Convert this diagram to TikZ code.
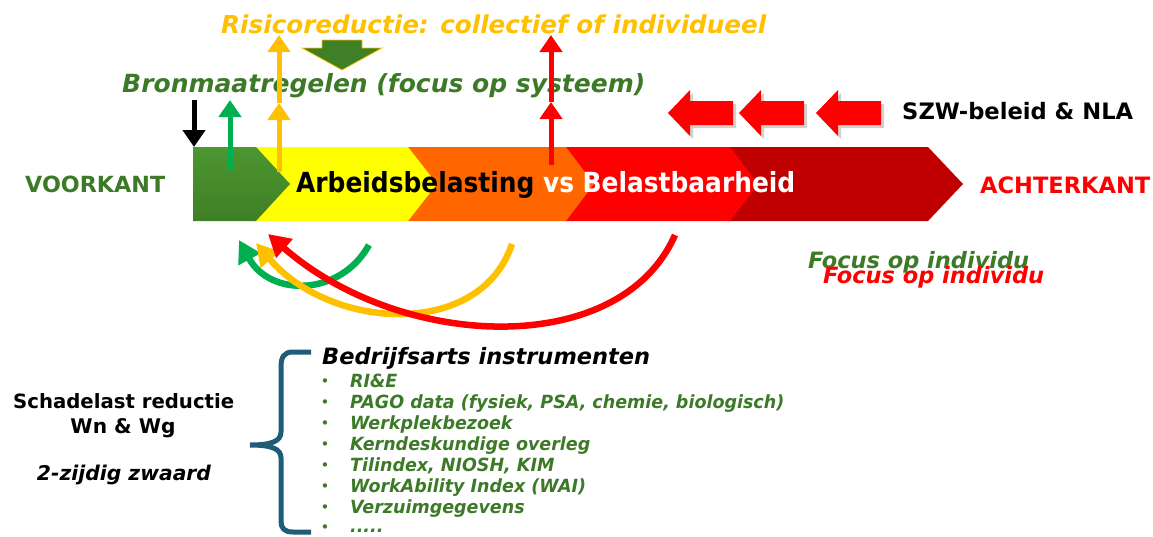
\documentclass[tikz,border=0pt]{standalone}
\usepackage{fontspec}
\setmainfont{DejaVu Sans}
\newfontfamily\condfont{DejaVu Sans Condensed}
\usetikzlibrary{arrows.meta}
\definecolor{gold}{HTML}{FFC000}
\definecolor{txtgreen}{HTML}{3D7A28}
\definecolor{bargreen}{HTML}{3F7F25}
\definecolor{barlight}{HTML}{4D9630}
\definecolor{brightgreen}{HTML}{00B050}
\definecolor{cyellow}{HTML}{FFFF00}
\definecolor{corange}{HTML}{FF6600}
\definecolor{cred}{HTML}{FF0000}
\definecolor{cdarkred}{HTML}{C00000}
\definecolor{bracecol}{HTML}{1F5C78}
\newcommand{\fitw}[2]{\resizebox{#1pt}{!}{#2}}
\newcommand{\listtext}[1]{\scalebox{1.06}[1.1]{#1}}
\tikzset{
  txt/.style={inner sep=0pt, anchor=base west},
  uparrow/.style={line width=5pt, -{Triangle[length=17pt,width=22pt]}},
  curvearrow/.style={line width=6.5pt, -{Triangle[length=22pt,width=24pt]}},
  blockarrow/.style={fill=cred},
  arrowshadow/.style={fill=black, opacity=0.18},
  listitem/.style={txt, font=\fontsize{16.5}{18}\selectfont\bfseries\itshape, text=txtgreen},
  bulletdot/.style={inner sep=0pt, anchor=base, text=txtgreen, font=\fontsize{15}{15}\selectfont}
}
\begin{document}
\begin{tikzpicture}[x=1pt,y=-1pt]
\useasboundingbox (0,0) rectangle (1153,536);

% ---- chevron bar ----
\fill[cdarkred] (728,147) -- (928,147) -- (963,184) -- (928,221) -- (728,221) -- cycle;
\fill[cred] (565,147) -- (730,147) -- (758,184) -- (730,221) -- (565,221) -- cycle;
\fill[corange] (407,147) -- (566,147) -- (594,184) -- (566,221) -- (407,221) -- cycle;
\fill[cyellow] (255,147) -- (408,147) -- (437,184) -- (408,221) -- (255,221) -- cycle;
\shade[top color=barlight, bottom color=bargreen] (193,147) -- (256,147) -- (290,184) -- (256,221) -- (193,221) -- cycle;

\node[txt] (bartext) at (296,192) {\fitw{499}{\condfont\bfseries Arbeidsbelasting \textcolor{white}{vs Belastbaarheid}}};

% ---- side labels ----
\node[txt] (voorkant) at (25,192) {\fitw{140}{\bfseries\color{txtgreen}VOORKANT}};
\node[txt] (achterkant) at (980,193) {\fitw{170}{\bfseries\color{cred}ACHTERKANT}};

% ---- top texts ----
\node[txt] (risico) at (221,33) {\fitw{545}{\bfseries\itshape\color{gold}Risicoreductie: collectief of individueel}};
\node[txt] (bron) at (122,92) {\fitw{523}{\bfseries\itshape\color{txtgreen}Bronmaatregelen (focus op systeem)}};
\node[txt] (szw) at (902,119) {\fitw{231}{\bfseries SZW-beleid \& NLA}};

% ---- green block arrow down ----
\fill[bargreen, draw=gold, line width=0.8pt] (322,40) -- (362,40) -- (362,48) -- (382,48) -- (342,70) -- (302,48) -- (322,48) -- cycle;

% ---- red block arrows (left) ----
\foreach \t in {668, 739, 816}{
  \fill[arrowshadow] (\t+3,116) -- (\t+25,93) -- (\t+25,104) -- (\t+68,104) -- (\t+68,128) -- (\t+25,128) -- (\t+25,139) -- cycle;
  \fill[blockarrow] (\t,113) -- (\t+22,90) -- (\t+22,101) -- (\t+65,101) -- (\t+65,125) -- (\t+22,125) -- (\t+22,136) -- cycle;
}

% ---- vertical arrows ----
\coordinate (blacktop) at (194,100);
\coordinate (blackbot) at (194,147);
\coordinate (greenbot) at (230,170);
\coordinate (greentop) at (230,100);
\coordinate (orbot) at (279,172);
\coordinate (ormid) at (279,103);
\coordinate (ortop) at (279,35);
\coordinate (rdbot) at (551,165);
\coordinate (rdmid) at (551,102);
\coordinate (rdtop) at (551,35);
\draw[uparrow, black] (blacktop) -- (blackbot);
\draw[uparrow, brightgreen] (greenbot) -- (greentop);
\draw[uparrow, gold] (orbot) -- (ormid);
\draw[uparrow, gold] (ormid) -- (ortop);
\draw[uparrow, cred] (rdbot) -- (rdmid);
\draw[uparrow, cred] (rdmid) -- (rdtop);

% ---- curved arrows under bar ----
\coordinate (gs) at (369,245);
\coordinate (ge) at (239,240);
\coordinate (os) at (512,244);
\coordinate (oe) at (256,243);
\coordinate (rs) at (675,235);
\coordinate (re) at (268,234);
\draw[curvearrow, brightgreen] (gs) .. controls (340,297) and (270,297) .. (ge);
\draw[curvearrow, gold] (os) .. controls (480,340) and (330,330) .. (oe);
\draw[curvearrow, cred] (rs) .. controls (620,360) and (400,350) .. (re);

% ---- focus op individu ----
\node[txt] (focusg) at (808,268) {\fitw{221}{\bfseries\itshape\color{txtgreen}Focus op individu}};
\node[txt] (focusr) at (823,283) {\fitw{221}{\bfseries\itshape\color{cred}Focus op individu}};

% ---- bottom left ----
\node[txt] (schade) at (13,408) {\fitw{221}{\bfseries Schadelast reductie}};
\node[inner sep=0pt, anchor=base] (wn) at (123,433) {\fitw{105}{\bfseries Wn \& Wg}};
\node[inner sep=0pt, anchor=base] (zwaard) at (124,480) {\fitw{174}{\bfseries\itshape 2-zijdig zwaard}};

% ---- brace ----
\draw[bracecol, line width=5pt] (311,352) -- (293,352) .. controls (284,352) and (281,357) .. (281,367) -- (281,432) .. controls (281,441) and (272,445) .. (250,445) .. controls (272,445) and (281,449) .. (281,458) -- (281,521) .. controls (281,528) and (284,532) .. (293,532) -- (311,532);

% ---- instruments list ----
\node[txt] (bedrijf) at (322,364) {\fitw{328}{\bfseries\itshape Bedrijfsarts instrumenten}};
\node[listitem] (item1) at (350,387) {\listtext{RI\&E}};
\node[listitem] (item2) at (350,408) {\listtext{PAGO data (fysiek, PSA, chemie, biologisch)}};
\node[listitem] (item3) at (350,429) {\listtext{Werkplekbezoek}};
\node[listitem] (item4) at (350,450) {\listtext{Kerndeskundige overleg}};
\node[listitem] (item5) at (350,471) {\listtext{Tilindex, NIOSH, KIM}};
\node[listitem] (item6) at (350,492) {\listtext{WorkAbility Index (WAI)}};
\node[listitem] (item7) at (350,513) {\listtext{Verzuimgegevens}};
\node[listitem] (item8) at (350,532.5) {\listtext{.....}};
\node[bulletdot] (b1) at (325,386) {\textbullet};
\node[bulletdot] (b2) at (325,407) {\textbullet};
\node[bulletdot] (b3) at (325,428) {\textbullet};
\node[bulletdot] (b4) at (325,449) {\textbullet};
\node[bulletdot] (b5) at (325,470) {\textbullet};
\node[bulletdot] (b6) at (325,491) {\textbullet};
\node[bulletdot] (b7) at (325,512) {\textbullet};
\node[bulletdot] (b8) at (325,532) {\textbullet};
\end{tikzpicture}
\end{document}
